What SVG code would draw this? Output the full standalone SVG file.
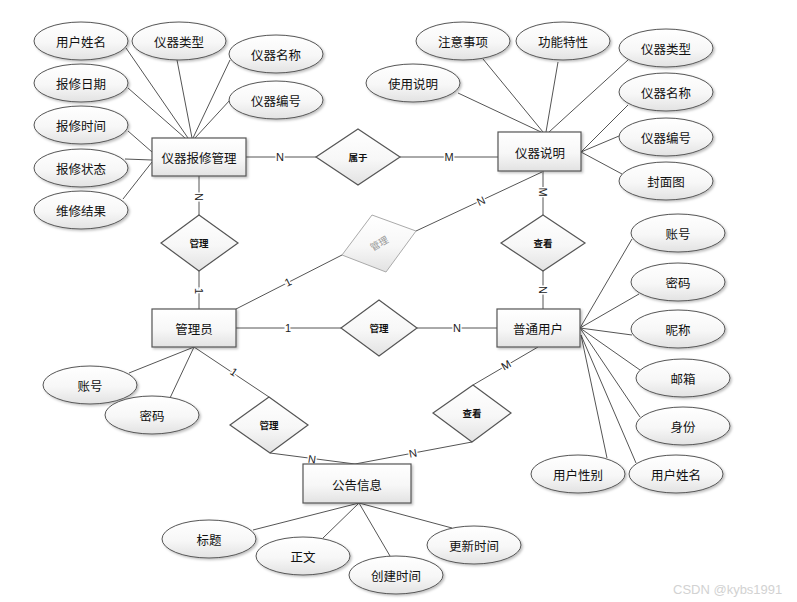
<svg xmlns="http://www.w3.org/2000/svg" width="797" height="602" viewBox="0 0 797 602">
<defs>
<linearGradient id="g" x1="0" y1="0" x2="0" y2="1">
<stop offset="0" stop-color="#ffffff"/>
<stop offset="0.55" stop-color="#f7f7f7"/>
<stop offset="1" stop-color="#e2e2e2"/>
</linearGradient>
<filter id="sh" x="-10%" y="-10%" width="125%" height="135%">
<feDropShadow dx="1.5" dy="1.5" stdDeviation="1" flood-color="#000" flood-opacity="0.25"/>
</filter>
</defs>
<style>
.e{fill:url(#g);stroke:#555;stroke-width:1;filter:url(#sh)}
.r{fill:url(#g);stroke:#555;stroke-width:1.2;filter:url(#sh)}
.d{fill:url(#g);stroke:#555;stroke-width:1.2}
.dg{fill:url(#g);stroke:#aaa;stroke-width:1}
.t{font-family:"Noto Sans CJK SC","Liberation Sans",sans-serif;font-size:12.5px;fill:#111;text-anchor:middle;dominant-baseline:central}
.ts{font-family:"Noto Sans CJK SC","Liberation Sans",sans-serif;font-size:9.5px;font-weight:bold;fill:#111;text-anchor:middle;dominant-baseline:central}
.l{stroke:#555;stroke-width:1;fill:none}
.c{font-family:"Liberation Sans",sans-serif;font-size:11px;fill:#222;text-anchor:middle;dominant-baseline:central;stroke:#fff;stroke-width:3;paint-order:stroke}
.w{font-family:"Liberation Sans",sans-serif;font-size:13px;fill:#d2d2d2}
</style>
<g id="connectors">
<line class="l" x1="126" y1="48" x2="188" y2="138"/>
<line class="l" x1="177" y1="60" x2="192" y2="138" stroke-width="1.4"/>
<line class="l" x1="230" y1="60" x2="193" y2="138" stroke-width="1.4"/>
<line class="l" x1="230" y1="100" x2="195" y2="138"/>
<line class="l" x1="128" y1="88" x2="185" y2="138"/>
<line class="l" x1="128" y1="131" x2="152" y2="152"/>
<line class="l" x1="125" y1="159" x2="152" y2="160"/>
<line class="l" x1="123" y1="199" x2="152" y2="162"/>
<line class="l" x1="246" y1="157" x2="316" y2="157"/>
<line class="l" x1="400" y1="157" x2="498" y2="157"/>
<line class="l" x1="458" y1="93" x2="541" y2="132"/>
<line class="l" x1="483" y1="59" x2="543" y2="132"/>
<line class="l" x1="558" y1="62" x2="546" y2="132"/>
<line class="l" x1="628" y1="60" x2="549" y2="132"/>
<line class="l" x1="628" y1="105" x2="581" y2="152"/>
<line class="l" x1="619" y1="136" x2="581" y2="152"/>
<line class="l" x1="622" y1="174" x2="581" y2="152" stroke-width="1.5" stroke="#333"/>
<line class="l" x1="543" y1="171" x2="543" y2="215"/>
<line class="l" x1="542" y1="172" x2="416" y2="231"/>
<line class="l" x1="199" y1="176" x2="199" y2="215"/>
<line class="l" x1="199" y1="271" x2="199" y2="309"/>
<line class="l" x1="236" y1="309" x2="342" y2="255"/>
<line class="l" x1="236" y1="328" x2="341" y2="328"/>
<line class="l" x1="417" y1="328" x2="497" y2="328"/>
<line class="l" x1="543" y1="271" x2="543" y2="309"/>
<line class="l" x1="580" y1="328" x2="632" y2="239"/>
<line class="l" x1="580" y1="328" x2="639" y2="294"/>
<line class="l" x1="580" y1="328" x2="632" y2="335"/>
<line class="l" x1="580" y1="328" x2="640" y2="370"/>
<line class="l" x1="580" y1="328" x2="640" y2="417"/>
<line class="l" x1="581" y1="335" x2="607" y2="458"/>
<line class="l" x1="581" y1="335" x2="636" y2="463"/>
<line class="l" x1="538" y1="347" x2="473" y2="385"/>
<line class="l" x1="472" y1="442" x2="355" y2="464"/>
<line class="l" x1="194" y1="347" x2="269" y2="397"/>
<line class="l" x1="270" y1="453" x2="355" y2="464"/>
<line class="l" x1="194" y1="347" x2="129" y2="373"/>
<line class="l" x1="194" y1="347" x2="170" y2="398"/>
<line class="l" x1="359" y1="503" x2="253" y2="530"/>
<line class="l" x1="359" y1="503" x2="323" y2="538"/>
<line class="l" x1="359" y1="503" x2="390" y2="556"/>
<line class="l" x1="359" y1="503" x2="452" y2="528"/>
<text class="c" x="280" y="157">N</text>
<text class="c" x="449" y="157">M</text>
<text class="c" transform="translate(199,197) rotate(90)">N</text>
<text class="c" transform="translate(199,291) rotate(90)">1</text>
<text class="c" transform="translate(543,192) rotate(90)">M</text>
<text class="c" transform="translate(543,290) rotate(90)">N</text>
<text class="c" transform="translate(481,201) rotate(-25)">N</text>
<text class="c" transform="translate(288,282) rotate(-27)">1</text>
<text class="c" x="288" y="328">1</text>
<text class="c" x="457" y="328">N</text>
<text class="c" transform="translate(506,365) rotate(-30)">M</text>
<text class="c" transform="translate(234,372) rotate(34)">1</text>
<text class="c" transform="translate(312,459) rotate(8)">N</text>
<text class="c" transform="translate(413,453) rotate(-11)">N</text>
</g>
<g id="n-repair"><rect class="r" x="152" y="138" width="94" height="38"/><text class="t" x="199" y="157">仪器报修管理</text></g>
<g id="n-manual"><rect class="r" x="498" y="132" width="83" height="39"/><text class="t" x="540" y="152">仪器说明</text></g>
<g id="n-admin"><rect class="r" x="152" y="309" width="84" height="38"/><text class="t" x="194" y="328">管理员</text></g>
<g id="n-user"><rect class="r" x="497" y="309" width="83" height="38"/><text class="t" x="538" y="328">普通用户</text></g>
<g id="n-notice"><rect class="r" x="303" y="464" width="108" height="39"/><text class="t" x="357" y="484">公告信息</text></g>
<g id="r-belong"><polygon class="d" points="358,129 400,157 358,185 316,157"/><text class="ts" x="358" y="157">属于</text></g>
<g id="r-manage1"><polygon class="d" points="199,215 238,243 199,271 161,243"/><text class="ts" x="199" y="243">管理</text></g>
<g id="r-manage2"><polygon class="dg" points="372,215 416,231 386,272 342,255"/><text class="ts" style="fill:#999;font-weight:normal" transform="translate(379,243) rotate(-30)">管理</text></g>
<g id="r-view1"><polygon class="d" points="543,215 585,243 543,271 501,243"/><text class="ts" x="543" y="243">查看</text></g>
<g id="r-manage3"><polygon class="d" points="379,300 417,328 379,356 341,328"/><text class="ts" x="379" y="328">管理</text></g>
<g id="r-manage4"><polygon class="d" points="269,397 308,425 270,453 230,425"/><text class="ts" x="269" y="425">管理</text></g>
<g id="r-view2"><polygon class="d" points="473,385 511,413 472,442 433,413"/><text class="ts" x="472" y="413">查看</text></g>
<g id="a1"><ellipse class="e" cx="81" cy="41" rx="47" ry="19"/><text class="t" x="81" y="41">用户姓名</text></g>
<g id="a2"><ellipse class="e" cx="179" cy="41" rx="47" ry="19"/><text class="t" x="179" y="41">仪器类型</text></g>
<g id="a3"><ellipse class="e" cx="276" cy="54" rx="47" ry="19"/><text class="t" x="276" y="54">仪器名称</text></g>
<g id="a4"><ellipse class="e" cx="276" cy="100" rx="47" ry="19"/><text class="t" x="276" y="100">仪器编号</text></g>
<g id="a5"><ellipse class="e" cx="81" cy="83" rx="47" ry="19"/><text class="t" x="81" y="83">报修日期</text></g>
<g id="a6"><ellipse class="e" cx="81" cy="125" rx="47" ry="19"/><text class="t" x="81" y="125">报修时间</text></g>
<g id="a7"><ellipse class="e" cx="81" cy="168" rx="47" ry="19"/><text class="t" x="81" y="168">报修状态</text></g>
<g id="a8"><ellipse class="e" cx="81" cy="210" rx="47" ry="19"/><text class="t" x="81" y="210">维修结果</text></g>
<g id="b1"><ellipse class="e" cx="463" cy="41" rx="47" ry="19"/><text class="t" x="463" y="41">注意事项</text></g>
<g id="b2"><ellipse class="e" cx="563" cy="41" rx="47" ry="19"/><text class="t" x="563" y="41">功能特性</text></g>
<g id="b3"><ellipse class="e" cx="666" cy="48" rx="47" ry="19"/><text class="t" x="666" y="48">仪器类型</text></g>
<g id="b4"><ellipse class="e" cx="413" cy="83" rx="47" ry="19"/><text class="t" x="413" y="83">使用说明</text></g>
<g id="b5"><ellipse class="e" cx="666" cy="92" rx="47" ry="19"/><text class="t" x="666" y="92">仪器名称</text></g>
<g id="b6"><ellipse class="e" cx="666" cy="137" rx="47" ry="19"/><text class="t" x="666" y="137">仪器编号</text></g>
<g id="b7"><ellipse class="e" cx="666" cy="181" rx="47" ry="19"/><text class="t" x="666" y="181">封面图</text></g>
<g id="c1"><ellipse class="e" cx="678" cy="233" rx="47" ry="19"/><text class="t" x="678" y="233">账号</text></g>
<g id="c2"><ellipse class="e" cx="678" cy="282" rx="47" ry="19"/><text class="t" x="678" y="282">密码</text></g>
<g id="c3"><ellipse class="e" cx="678" cy="329" rx="47" ry="19"/><text class="t" x="678" y="329">昵称</text></g>
<g id="c4"><ellipse class="e" cx="683" cy="378" rx="47" ry="19"/><text class="t" x="683" y="378">邮箱</text></g>
<g id="c5"><ellipse class="e" cx="683" cy="426" rx="47" ry="19"/><text class="t" x="683" y="426">身份</text></g>
<g id="c6"><ellipse class="e" cx="578" cy="474" rx="47" ry="19"/><text class="t" x="578" y="474">用户性别</text></g>
<g id="c7"><ellipse class="e" cx="676" cy="474" rx="47" ry="19"/><text class="t" x="676" y="474">用户姓名</text></g>
<g id="d1"><ellipse class="e" cx="90" cy="385" rx="47" ry="19"/><text class="t" x="90" y="385">账号</text></g>
<g id="d2"><ellipse class="e" cx="152" cy="415" rx="47" ry="19"/><text class="t" x="152" y="415">密码</text></g>
<g id="f1"><ellipse class="e" cx="209" cy="539" rx="47" ry="19"/><text class="t" x="209" y="539">标题</text></g>
<g id="f2"><ellipse class="e" cx="303" cy="556" rx="47" ry="19"/><text class="t" x="303" y="556">正文</text></g>
<g id="f3"><ellipse class="e" cx="396" cy="575" rx="47" ry="19"/><text class="t" x="396" y="575">创建时间</text></g>
<g id="f4"><ellipse class="e" cx="474" cy="545" rx="47" ry="19"/><text class="t" x="474" y="545">更新时间</text></g>
<text class="w" x="673" y="594">CSDN @kybs1991</text>
</svg>
